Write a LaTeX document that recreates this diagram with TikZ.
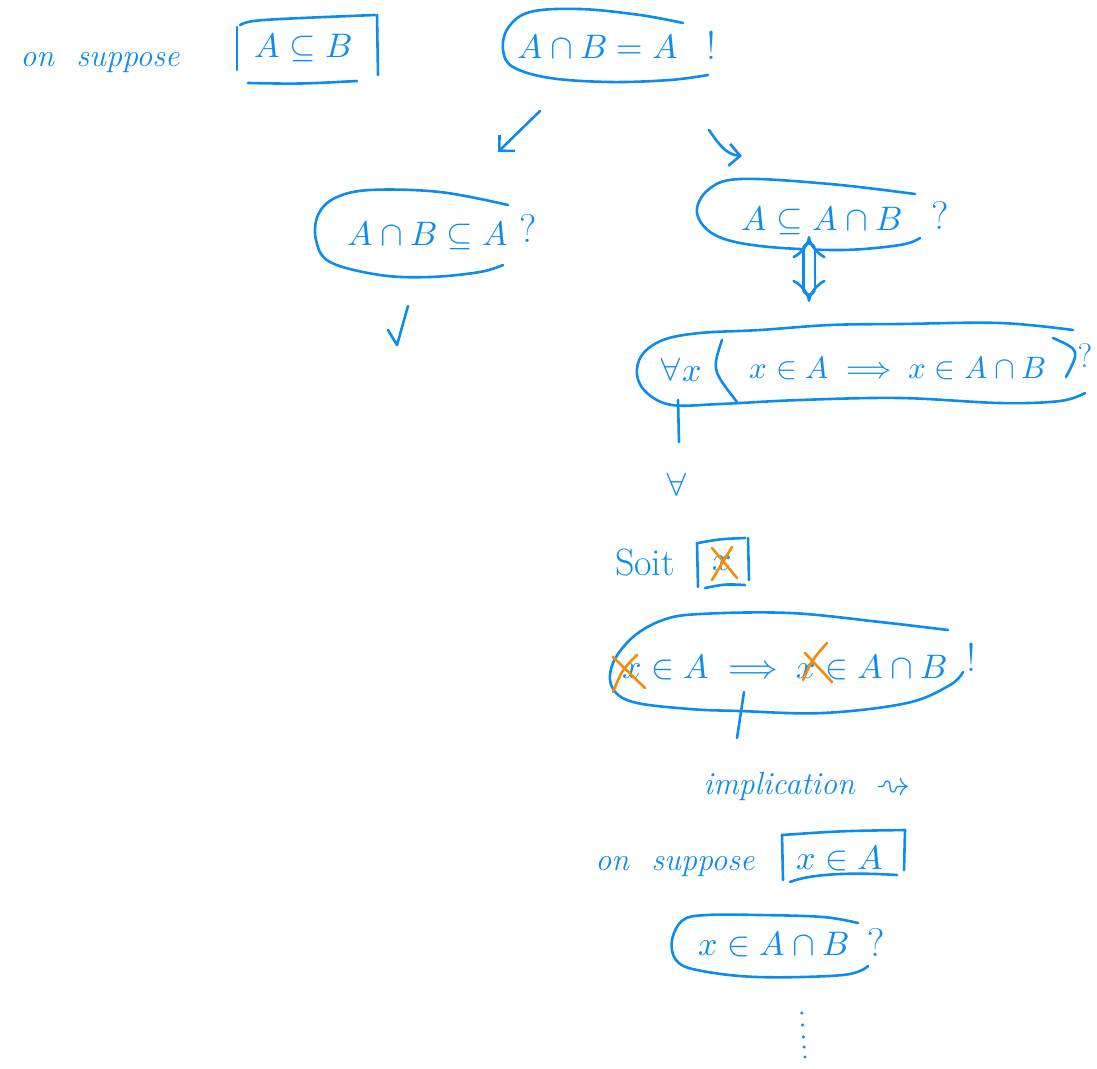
\documentclass[tikz,border=0pt]{standalone}
\usepackage{amsmath}
\usepackage{unicode-math}
\setmathfont{Latin Modern Math}
\usetikzlibrary{arrows.meta}
\definecolor{ink}{RGB}{12,140,238}
\definecolor{strikeink}{RGB}{244,140,10}
\tikzset{
  pen/.style={draw=ink, line width=2.6pt, line cap=round, line join=round},
  ring/.style={pen, smooth, tension=0.6},
  formula/.style={text=ink, font=\fontsize{34}{38}\selectfont, inner sep=0pt},
  words/.style={text=ink, font=\fontsize{32}{36}\selectfont\itshape, inner sep=0pt},
  punct/.style={text=ink, font=\fontsize{40}{44}\selectfont, inner sep=0pt},
  crossout/.style={draw=strikeink, line width=2.6pt, line cap=round},
  barb/.style={-{Straight Barb[length=11pt,width=22pt,line width=2.6pt]}},
}
\begin{document}
\begin{tikzpicture}[x=1pt,y=-1pt]
\useasboundingbox (0,0) rectangle (1097,1068);

% ---- hypothesis A subset B
\node[words] (hyp1) at (100,63) {on \ suppose};
\node[formula] (ab) at (303,47) {$A\subseteq B$};
\draw[pen] (237,27) -- (237,70);
\draw[pen] (240,25) .. controls (250,20) .. (375,15);
\draw[pen] (377,15) -- (378,75);
\draw[pen] (248,83) .. controls (300,84) .. (357,81);

% ---- goal: A cap B = A
\node[formula] (goal) at (598,47) {$A\cap B = A$};
\node[punct] (goalmark) at (711,45) {!};
\draw[ring] plot coordinates {(683,23) (640,15) (580,9) (530,12) (508,28) (503,50) (513,67) (550,78) (610,82) (670,80) (708,75)};

% ---- split into two inclusions
\coordinate (lfrom) at (540,111);
\coordinate (lto) at (498,152);
\coordinate (rfrom) at (709,130);
\coordinate (rto) at (742,156);
\draw[pen, barb] (lfrom) -- (lto);
\draw[pen, barb] (rfrom) to[out=-55,in=175] (rto);

% ---- A cap B subset A
\node[formula] (inc1) at (428,235) {$A\cap B\subseteq A$};
\node[punct] (inc1q) at (528,228) {?};
\draw[ring] plot coordinates {(508,205) (440,192) (370,190) (335,198) (318,215) (316,240) (330,262) (380,275) (430,277) (480,272) (503,265)};
\coordinate (chk1) at (388,330);
\coordinate (chk2) at (397,345);
\coordinate (chk3) at (408,306);
\draw[pen] (chk1) -- (chk2) -- (chk3);

% ---- A subset A cap B
\node[formula] (inc2) at (822,220) {$A\subseteq A\cap B$};
\node[punct] (inc2q) at (940,215) {?};
\draw[ring] plot coordinates {(915,194) (830,184) (740,179) (708,190) (697,213) (715,235) (760,246) (840,250) (900,245) (920,238)};
\coordinate (eqtop) at (809,236);
\coordinate (eqbot) at (809,302);
\draw[pen, double=white, double distance=9pt, {Implies[length=9pt]}-{Implies[length=9pt]}] (eqtop) -- (eqbot);

% ---- unfolded definition
\node[formula] (allx) at (681,370) {$\forall x$};
\node[formula, font=\fontsize{31}{35}\selectfont] (body) at (898,368) {$x\in A \;\Longrightarrow\; x\in A\cap B$};
\node[punct, font=\fontsize{34}{38}\selectfont] (bodyq) at (1085,356) {?};
\draw[pen] (722,340) .. controls (712,370) .. (737,402);
\draw[pen] (1053,338) .. controls (1080,350) .. (1066,377);
\draw[ring] plot coordinates {(1073,330) (1000,323) (900,324) (830,325) (760,330) (700,333) (663,340) (642,355) (637,375) (647,393) (672,405) (720,404) (800,400) (900,398) (1000,403) (1060,401) (1085,393)};
\coordinate (stem1a) at (678,400);
\coordinate (stem1b) at (679,442);
\draw[pen] (stem1a) -- (stem1b);
\node[formula] (forall) at (677,485) {$\forall$};

% ---- fix an arbitrary x
\node[text=ink, font=\fontsize{38}{42}\selectfont, inner sep=0pt] (soit) at (645,563) {Soit};
\node[formula] (xfix) at (722,563) {$x$};
\draw[pen] (697,543) -- (698,587);
\draw[pen] (698,543) .. controls (720,539) .. (745,538);
\draw[pen] (748,538) -- (749,580);
\draw[pen] (705,588) .. controls (725,584) .. (745,585);
\draw[crossout] (712,548) -- (737,578);
\draw[crossout] (732,547) -- (712,580);

% ---- implication to prove
\node[formula] (impl) at (785,667) {$x\in A \;\Longrightarrow\; x\in A\cap B$};
\node[punct] (implmark) at (971,657) {!};
\draw[ring] plot coordinates {(948,630) (880,622) (790,613) (700,614) (663,620) (633,637) (613,663) (612,687) (633,702) (690,709) (740,711) (823,713) (907,703) (950,685) (963,672)};
\draw[crossout] (613,692) .. controls (622,670) .. (637,655);
\draw[crossout] (613,657) -- (645,688);
\draw[crossout] (803,680) .. controls (812,660) .. (827,643);
\draw[crossout] (805,653) -- (832,682);
\coordinate (stem2a) at (744,692);
\coordinate (stem2b) at (737,738);
\draw[pen] (stem2a) -- (stem2b);

% ---- proving an implication
\node[words] (howto) at (779,786) {implication};
\node[formula] (leadsto) at (893,787) {$\rightsquigarrow$};
\node[words] (hyp2) at (675,867) {on \ suppose};
\node[formula] (xa) at (840,858) {$x\in A$};
\draw[pen] (782,835) -- (783,880);
\draw[pen] (782,835) .. controls (840,831) .. (905,830);
\draw[pen] (905,830) -- (904,870);
\draw[pen] (790,882) .. controls (810,874) and (850,872) .. (897,875);

% ---- remaining goal
\node[formula] (last) at (774,944) {$x\in A\cap B$};
\node[punct] (lastq) at (876,942) {?};
\draw[ring] plot coordinates {(858,923) (823,917) (760,915) (707,915) (683,920) (672,940) (676,960) (697,970) (757,977) (843,975) (868,966)};
\foreach \k/\yy in {1/1013,2/1025,3/1037,4/1047,5/1057}
  \fill[ink] (801+\k*0.8,\yy) circle (1.7pt) coordinate (dot\k);
\end{tikzpicture}
\end{document}
